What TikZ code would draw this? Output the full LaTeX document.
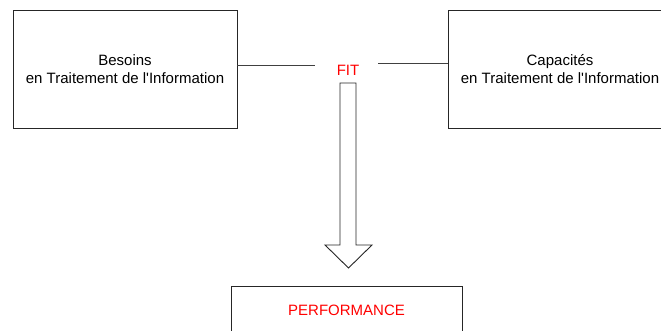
\documentclass[tikz,border=0pt]{standalone}
\usepackage{fontspec}
\setmainfont{Liberation Sans}
\begin{document}
\begin{tikzpicture}[x=1pt,y=-1pt,
  boxstyle/.style={draw=black!85,line width=0.9pt,inner sep=0pt,font=\fontsize{15}{18}\selectfont,align=center},
  linkstyle/.style={draw=black!75,line width=0.9pt},
  redtext/.style={text=red,font=\fontsize{15}{18}\selectfont,inner sep=0pt}]
\useasboundingbox (0,0) rectangle (661,331);
\clip (0,0) rectangle (661,331);
\node[boxstyle,minimum width=224pt,minimum height=118pt] (besoins) at (125,69) {Besoins\\en Traitement de l\textquotesingle Information};
\node[boxstyle,minimum width=224pt,minimum height=118pt] (capa) at (560,69) {Capacités\\en Traitement de l\textquotesingle Information};
\node[redtext] (fit) at (348,70) {FIT};
\node[boxstyle,minimum width=231pt,minimum height=48pt,text=red] (perf) at (346.5,310) {PERFORMANCE};
\coordinate (la) at (315,65.7);
\coordinate (ra) at (378,63);
\draw[linkstyle] (besoins.east |- la) -- (la);
\draw[linkstyle] (ra) -- (capa.west |- ra);
\draw[draw=black!85,line width=0.9pt,fill=white,line join=miter]
  (340,83) -- (356,83) -- (356,245) -- (372,245) -- (348.5,268) -- (325,245) -- (340,245) -- cycle;
\end{tikzpicture}
\end{document}
